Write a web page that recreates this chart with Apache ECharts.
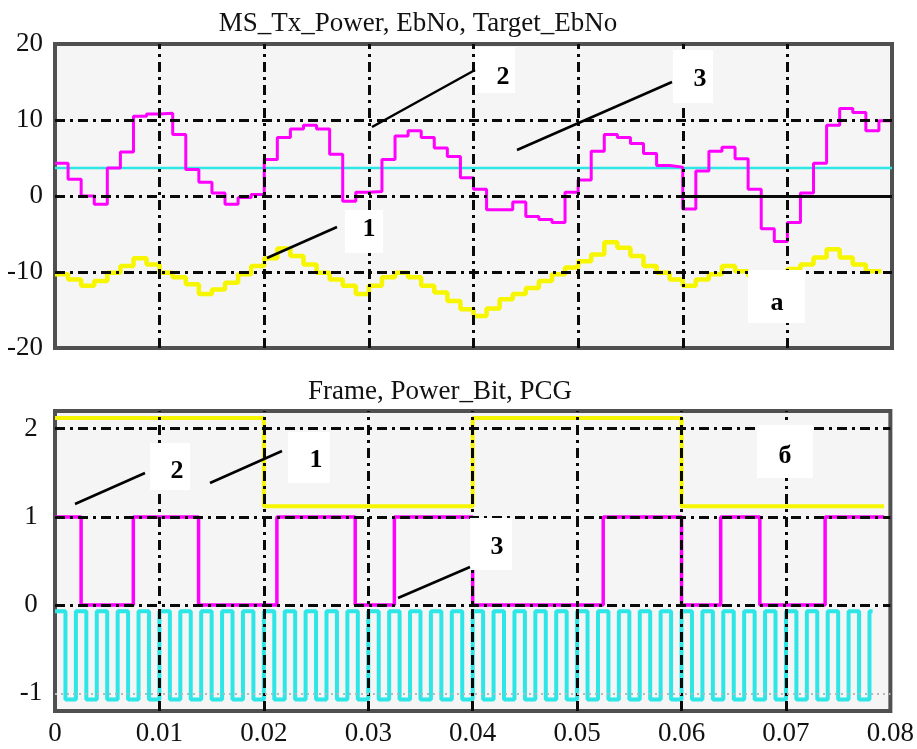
<!DOCTYPE html>
<html>
<head>
<meta charset="utf-8">
<script src="https://cdn.jsdelivr.net/npm/echarts@6/dist/echarts.min.js"></script>
<style>
html, body { margin: 0; padding: 0; background: #fff; }
#main { width: 917px; height: 749px; }
</style>
</head>
<body>
<div id="main"></div>
<script>
var chartDom = document.getElementById('main');
var myChart = echarts.init(chartDom);
var option;

// top panel: one value per power control group (1.25 ms)
const pcgLen = 0.00125;
const msTxPower = [
  -10.3, -11.0, -11.8, -11.2, -10.1, -9.2, -8.2, -9.0, -10.1, -10.7, -11.6, -12.9, -12.3, -11.4, -10.3, -9.2,
  -8.2, -6.9, -7.9, -9.0, -10.1, -11.0, -11.8, -12.9, -11.8, -10.7, -10.1, -10.7, -11.8, -12.7, -13.8, -14.9,
  -15.8, -14.8, -13.6, -12.9, -12.1, -11.2, -10.3, -9.4, -8.6, -7.7, -6.1, -6.8, -7.9, -9.2, -10.1, -11.0,
  -11.8, -11.0, -10.3, -9.2, -9.9, -10.5, -11.0, -10.3, -9.6, -9.0, -8.1, -7.0, -8.1, -9.0, -9.9, -9.9
];
const ebNo = [
  4.3, 2.2, 0.0, -1.1, 3.7, 5.8, 10.5, 10.8, 10.9, 8.1, 3.5, 1.8, 0.4, -1.1, -0.2, 0.2,
  4.8, 7.7, 8.8, 9.3, 8.8, 5.5, -0.7, 0.5, 0.6, 4.8, 7.9, 8.6, 7.7, 6.3, 5.2, 2.4,
  0.9, -1.8, -1.8, -0.8, -2.7, -3.1, -3.5, 0.5, 2.1, 5.9, 8.1, 7.7, 6.9, 5.6, 4.0, 3.8,
  -1.7, 3.3, 5.9, 6.4, 4.9, 0.9, -4.3, -6.0, -3.5, 0.4, 4.3, 9.3, 11.5, 11.0, 8.6, 9.9
];
const targetEbNo = 3.7;
const txPowerEnd = 0.079;
const ebNoEnd = 0.08;

// bottom panel
const frameTimes = [0, 0.02, 0.04, 0.06, 0.0794];
const frameValues = [2.12, 1.12, 2.12, 1.12, 1.12];
const powerBitTimes = [0, 0.0025, 0.0075, 0.01375, 0.02125, 0.02875, 0.0325, 0.04, 0.0525, 0.06, 0.06375, 0.0675, 0.07375, 0.0794];
const powerBitValues = [1, 0, 1, 0, 1, 0, 1, 0, 1, 0, 1, 0, 1, 1];
const pcgSlot = 0.001;
const pcgLevels = [
  -0.07, -1.07, -0.07, -1.07, -0.07, -1.07, -0.07, -1.07, -0.07, -1.07,
  -0.07, -1.07, -0.07, -1.07, -0.07, -1.07, -0.07, -1.07, -0.07, -1.07,
  -0.07, -1.07, -0.07, -1.07, -0.07, -1.07, -0.07, -1.07, -0.07, -1.07,
  -0.07, -1.07, -0.07, -1.07, -0.07, -1.07, -0.07, -1.07, -0.07, -1.07,
  -0.07, -1.07, -0.07, -1.07, -0.07, -1.07, -0.07, -1.07, -0.07, -1.07,
  -0.07, -1.07, -0.07, -1.07, -0.07, -1.07, -0.07, -1.07, -0.07, -1.07,
  -0.07, -1.07, -0.07, -1.07, -0.07, -1.07, -0.07, -1.07, -0.07, -1.07,
  -0.07, -1.07, -0.07, -1.07, -0.07, -1.07, -0.07, -1.07, -0.07
];
const pcgEnd = 0.0783;

// axes
const xGridValues = [0.01, 0.02, 0.03, 0.04, 0.05, 0.06, 0.07];
const topYGrid = [-10, 0, 10];
const bottomYTicks = [-1, 0, 1, 2];
const bottomYGrid = [0, 1, 2];

const titleTop = 'MS_Tx_Power, EbNo, Target_EbNo';
const titleBottom = 'Frame, Power_Bit, PCG';

const serif = '"Liberation Serif", "DejaVu Serif", serif';

function stepSeries(vals, dt, tEnd) {
  const d = vals.map((v, k) => [k * dt, v]);
  d.push([tEnd, vals[vals.length - 1]]);
  return d;
}
function zipSeries(ts, vs) {
  return ts.map((t, i) => [t, vs[i]]);
}

const gridDash = { color: '#0a0a0a', width: 3, type: [10, 5, 3, 5] };
function gridLines(yVals, xVals, extra) {
  return {
    silent: true,
    symbol: ['none', 'none'],
    label: { show: false },
    emphasis: { disabled: true },
    animation: false,
    lineStyle: gridDash,
    data: yVals.map(v => ({ yAxis: v }))
      .concat(xVals.map(v => ({ xAxis: v })))
      .concat(extra || [])
  };
}

const labelFont = { fontFamily: serif, fontSize: 27, color: '#111' };

function boxLabel(x, y, w, h, tx, ty, txt) {
  return [
    { type: 'rect', z: 100, shape: { x: x, y: y, width: w, height: h }, style: { fill: '#fff' } },
    { type: 'text', z: 101, x: tx, y: ty, style: { text: txt, align: 'center', verticalAlign: 'middle', font: 'bold 26px ' + serif, fill: '#000' } }
  ];
}
function pointer(x1, y1, x2, y2) {
  return { type: 'line', z: 102, shape: { x1: x1, y1: y1, x2: x2, y2: y2 }, style: { stroke: '#000', lineWidth: 2.5 } };
}

option = {
  animation: false,
  backgroundColor: '#fff',
  grid: [
    { left: 55, width: 837, top: 44, height: 304, show: true, backgroundColor: '#f5f5f5', borderColor: '#505050', borderWidth: 4 },
    { left: 55, width: 837, top: 411, height: 300, show: true, backgroundColor: '#f5f5f5', borderColor: '#505050', borderWidth: 4 }
  ],
  xAxis: [
    {
      gridIndex: 0, type: 'value', min: 0, max: 0.08, interval: 0.01,
      axisLine: { show: false }, axisTick: { show: false }, axisLabel: { show: false }, splitLine: { show: false }
    },
    {
      gridIndex: 1, type: 'value', min: 0, max: 0.08, interval: 0.01,
      axisLine: { show: false }, axisTick: { show: false }, splitLine: { show: false },
      axisLabel: Object.assign({ margin: 9, showMinLabel: true, showMaxLabel: true, formatter: v => String(+v.toFixed(2)) }, labelFont)
    }
  ],
  yAxis: [
    {
      gridIndex: 0, type: 'value', min: -20, max: 20, interval: 10,
      axisLine: { show: false }, axisTick: { show: false }, splitLine: { show: false },
      axisLabel: Object.assign({ margin: 12 }, labelFont)
    },
    {
      gridIndex: 1, type: 'value', min: -1.2, max: 2.2,
      axisLine: { show: false }, axisTick: { show: false }, splitLine: { show: false },
      axisLabel: Object.assign({ margin: 24, align: 'center', customValues: bottomYTicks }, labelFont)
    }
  ],
  series: [
    {
      name: 'grid top', type: 'line', xAxisIndex: 0, yAxisIndex: 0, z: 1,
      data: [[0, 0]], showSymbol: false, lineStyle: { opacity: 0 },
      markLine: gridLines(topYGrid, xGridValues, [
        [{ coord: [0.06, 0], lineStyle: { type: 'solid', width: 3, color: '#0a0a0a' } }, { coord: [0.08, 0] }]
      ])
    },
    {
      name: 'MS_Tx_Power', type: 'line', xAxisIndex: 0, yAxisIndex: 0, step: 'end', z: 3,
      showSymbol: false, data: stepSeries(msTxPower, pcgLen, txPowerEnd),
      lineStyle: { color: '#f6f600', width: 4.5 }
    },
    {
      name: 'Target_EbNo', type: 'line', xAxisIndex: 0, yAxisIndex: 0, z: 3,
      showSymbol: false, data: [[0, targetEbNo], [0.08, targetEbNo]],
      lineStyle: { color: '#2ee6e6', width: 2.5 }
    },
    {
      name: 'EbNo', type: 'line', xAxisIndex: 0, yAxisIndex: 0, step: 'end', z: 4,
      showSymbol: false, data: stepSeries(ebNo, pcgLen, ebNoEnd),
      lineStyle: { color: '#ff00ff', width: 3 }
    },
    {
      name: 'grid bottom', type: 'line', xAxisIndex: 1, yAxisIndex: 1, z: 1,
      data: [[0, 0]], showSymbol: false, lineStyle: { opacity: 0 },
      markLine: gridLines(bottomYGrid, xGridValues, [
        { yAxis: -1, lineStyle: { color: '#b8b8b8', width: 2, type: [2, 4] } }
      ])
    },
    {
      name: 'Frame', type: 'line', xAxisIndex: 1, yAxisIndex: 1, step: 'end', z: 3,
      showSymbol: false, data: zipSeries(frameTimes, frameValues),
      lineStyle: { color: '#f6f600', width: 4 }
    },
    {
      name: 'Power_Bit', type: 'line', xAxisIndex: 1, yAxisIndex: 1, step: 'end', z: 4,
      showSymbol: false, data: zipSeries(powerBitTimes, powerBitValues),
      lineStyle: { color: '#ff00ff', width: 3.5 }
    },
    {
      name: 'PCG', type: 'line', xAxisIndex: 1, yAxisIndex: 1, step: 'end', z: 3,
      showSymbol: false, data: stepSeries(pcgLevels, pcgSlot, pcgEnd),
      lineStyle: { color: '#2ee6e6', width: 4 }
    }
  ],
  graphic: [
    { type: 'text', z: 100, x: 418, y: 24, style: { text: titleTop, align: 'center', verticalAlign: 'middle', font: '27px ' + serif, fill: '#111' } },
    { type: 'text', z: 100, x: 440, y: 392, style: { text: titleBottom, align: 'center', verticalAlign: 'middle', font: '27px ' + serif, fill: '#111' } }
  ]
    .concat(boxLabel(475, 47, 40, 46, 503, 77, '2'))
    .concat(boxLabel(673, 50, 40, 53, 700, 79, '3'))
    .concat(boxLabel(345, 210, 38, 43, 369, 229, '1'))
    .concat(boxLabel(748, 270, 57, 53, 777, 303, 'а'))
    .concat(boxLabel(150, 443, 40, 47, 177, 471, '2'))
    .concat(boxLabel(288, 432, 42, 51, 316, 460, '1'))
    .concat(boxLabel(470, 518, 42, 52, 497, 547, '3'))
    .concat(boxLabel(757, 425, 56, 53, 785, 456, 'б'))
    .concat([
      pointer(372, 127, 475, 70),
      pointer(517, 150, 672, 82),
      pointer(267, 258, 337, 227),
      pointer(75, 504, 145, 473),
      pointer(210, 483, 282, 451),
      pointer(398, 598, 470, 567)
    ])
};

option && myChart.setOption(option);

window.onresize = function() {
  myChart.resize();
};
</script>
</body>
</html>
